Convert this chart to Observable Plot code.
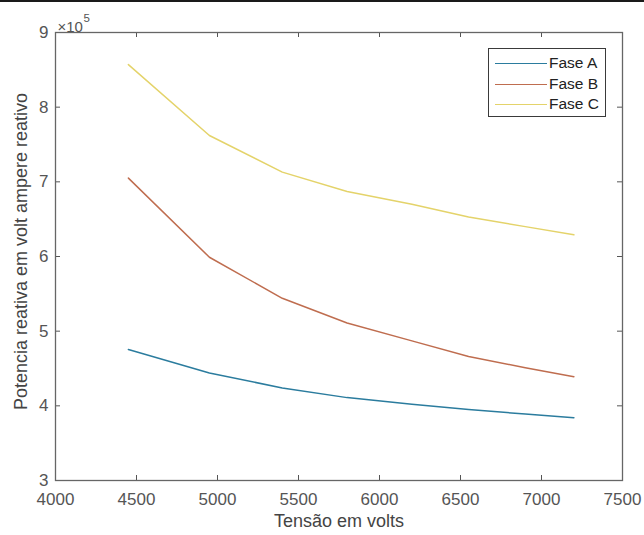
<!DOCTYPE html>
<html><head><meta charset="utf-8">
<script src="https://cdn.jsdelivr.net/npm/d3@7"></script>
<script src="https://cdn.jsdelivr.net/npm/@observablehq/plot@0.6"></script>
<style>
body{margin:0;background:#fff;font-family:"Liberation Sans",Arial,sans-serif}
#wrap{position:relative;width:644px;height:535px;overflow:hidden}
#topline{position:absolute;left:0;top:0;width:644px;height:2px;background:#1a1a1a}
#legend{position:absolute;left:488px;top:48px;width:118px;height:69px;border:1px solid #3a3a3a;background:#fff;box-sizing:border-box}
.row{position:absolute;left:0;height:18px;width:116px}
.row .ln{position:absolute;left:6px;top:9px;width:52px;height:0;border-top:1.5px solid}
.row .tx{position:absolute;left:60px;top:0;font-size:15.5px;line-height:18px;color:#222}
</style>
</head><body>
<div id="wrap"><div id="topline"></div></div>
<script>
const volts = [4450, 4950, 5400, 5800, 6200, 6550, 6900, 7200];
const faseA = [475500, 444000, 424000, 411000, 402000, 395000, 389000, 384000];
const faseB = [705000, 599000, 544000, 511000, 487000, 466000, 451000, 439000];
const faseC = [857000, 762000, 713000, 687000, 670000, 653000, 640000, 629000];
const seriesNames = ["Fase A", "Fase B", "Fase C"];
const seriesColors = ["#2b7c9e", "#bf6d4f", "#e4d36a"];
const xTicks = [4000, 4500, 5000, 5500, 6000, 6500, 7000, 7500];
const yTicks = [300000, 400000, 500000, 600000, 700000, 800000, 900000];
const xLabel = "Tensão em volts";
const yLabel = "Potencia reativa em volt ampere reativo";

const W = 644, H = 535, mL = 55, mR = 22, mT = 32, mB = 55;
const pw = W - mL - mR, ph = H - mT - mB;
const tk = 5;

const rows = [];
[faseA, faseB, faseC].forEach((s, k) => volts.forEach((v, i) => rows.push({v, q: s[i], fase: seriesNames[k]})));

const plot = Plot.plot({
  width: W, height: H,
  marginLeft: mL, marginRight: mR, marginTop: mT, marginBottom: mB,
  style: {fontFamily: "'Liberation Sans', Arial, sans-serif", fontSize: "16px", color: "#555", background: "#fff"},
  x: {domain: [xTicks[0], xTicks[xTicks.length - 1]]},
  y: {domain: [yTicks[0], yTicks[yTicks.length - 1]]},
  color: {domain: seriesNames, range: seriesColors},
  marks: [
    Plot.axisX(xTicks, {tickSize: 0, tickPadding: 12, label: null, fill: "#555", fontSize: 17, tickFormat: d => String(d)}),
    Plot.axisY(yTicks, {tickSize: 0, tickPadding: 7, label: null, fill: "#555", fontSize: 17, tickFormat: d => String(d / 1e5)}),
    Plot.tickX(xTicks, {x: d => d, insetTop: ph - tk, stroke: "#555"}),
    Plot.tickX(xTicks, {x: d => d, insetBottom: ph - tk, stroke: "#555"}),
    Plot.tickY(yTicks, {y: d => d, insetRight: pw - tk, stroke: "#555"}),
    Plot.tickY(yTicks, {y: d => d, insetLeft: pw - tk, stroke: "#555"}),
    Plot.line(rows, {x: "v", y: "q", z: "fase", stroke: "fase", strokeWidth: 1.5}),
    Plot.frame({stroke: "#666", strokeWidth: 1.3}),
    Plot.text([xLabel], {frameAnchor: "bottom", dy: 46, fontSize: 18, fill: "#444"}),
    Plot.text([yLabel], {frameAnchor: "left", textAnchor: "middle", dx: -34, dy: -5, rotate: -90, fontSize: 18, fill: "#444"}),
    Plot.text(["×10"], {frameAnchor: "top-left", textAnchor: "start", dx: 2, dy: -11, fontSize: 15, fill: "#555"}),
    Plot.text(["5"], {frameAnchor: "top-left", textAnchor: "start", dx: 28, dy: -19, fontSize: 11.5, fill: "#555"})
  ]
});
const wrap = document.getElementById("wrap");
wrap.insertBefore(plot, wrap.firstChild);

const legend = document.createElement("div");
legend.id = "legend";
seriesNames.forEach((n, i) => {
  const r = document.createElement("div");
  r.className = "row";
  r.style.top = (5 + i * 20.5) + "px";
  r.innerHTML = `<div class="ln" style="border-top-color:${seriesColors[i]}"></div><div class="tx">${n}</div>`;
  legend.appendChild(r);
});
wrap.appendChild(legend);
</script>
</body></html>
